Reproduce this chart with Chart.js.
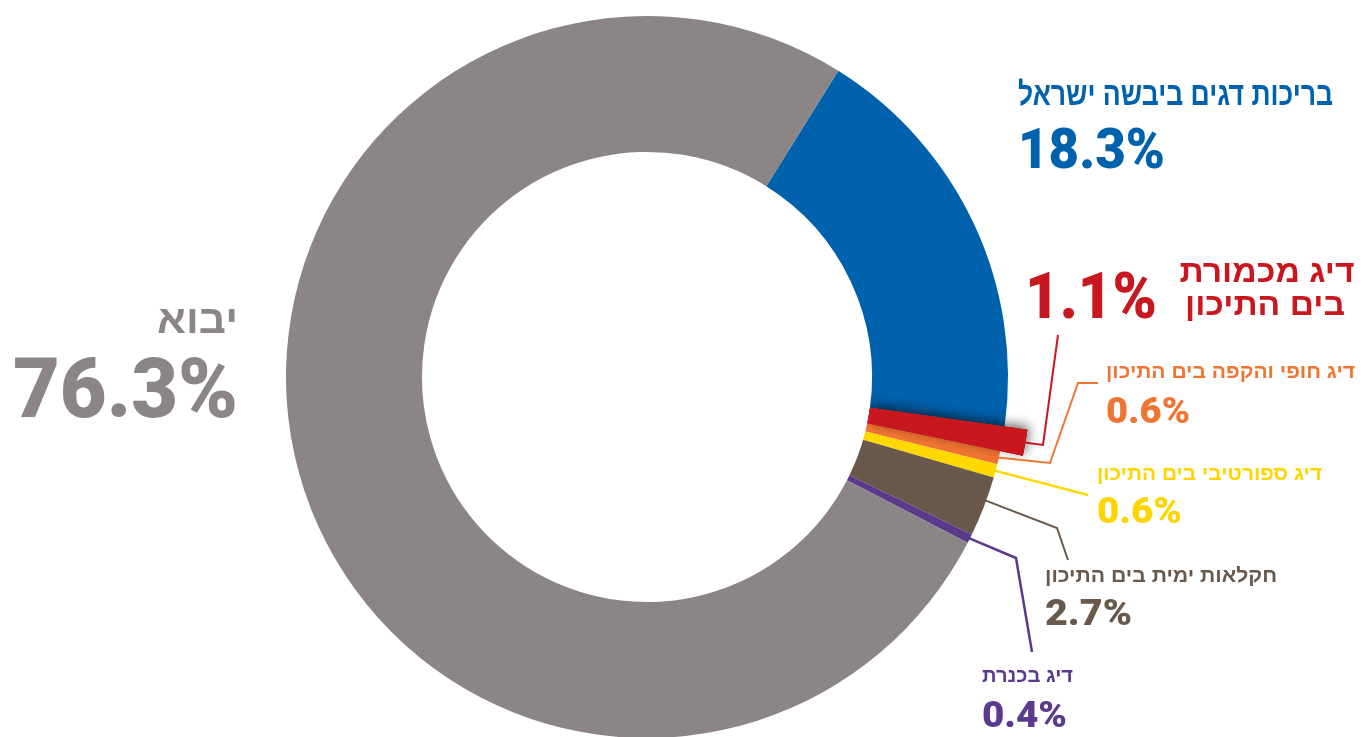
<!DOCTYPE html>
<html lang="he">
<head>
<meta charset="utf-8">
<script src="https://cdn.jsdelivr.net/npm/chart.js@4.4.1/dist/chart.umd.min.js"></script>
<style>
  html, body { margin: 0; padding: 0; background: #ffffff; }
  #wrap { position: relative; width: 1363px; height: 737px; }
</style>
</head>
<body>
<div id="wrap"><canvas id="chart"></canvas></div>
<script>
// Fish supply in Israel by source (share of total, %)
const categories = [
  'בריכות דגים ביבשה ישראל',
  'דיג מכמורת בים התיכון',
  'דיג חופי והקפה בים התיכון',
  'דיג ספורטיבי בים התיכון',
  'חקלאות ימית בים התיכון',
  'דיג בכנרת',
  'יבוא'
];
const shares = [18.3, 1.1, 0.6, 0.6, 2.7, 0.4, 76.3];
const sliceColors = ['#0061ad', '#c8171e', '#f07532', '#ffd800', '#68594b', '#5b3a8e', '#8b8685'];
const labelColors = ['#0061ad', '#c8171e', '#f07532', '#ffd500', '#68594b', '#5b3a8e', '#8b8685'];
const percentLabels = shares.map(v => v.toFixed(1) + '%');

// The trawling slice sticks out of the ring: it gets an extra outer band.
const HIGHLIGHT = 1;

const HEB_FONT = "'Liberation Sans', 'DejaVu Sans', sans-serif";
const NUM_FONT = "Roboto, 'Liberation Sans', sans-serif";

// Label placement: title (one or more lines) and value for each slice
const labelLayout = [
  { title: [{ x: 1333, y: 105, w: 315, align: 'right' }], tSize: 33, tWeight: 'bold',
    value: { x: 1018, y: 168, w: 147, align: 'left', size: 56 } },
  { split: 2, title: [{ x: 1267, y: 282, w: 175, align: 'center' }, { x: 1265, y: 315, w: 160, align: 'center' }],
    tSize: 32, tWeight: 'bold',
    value: { x: 1157, y: 318, w: 132, align: 'right', size: 64 } },
  { title: [{ x: 1355, y: 378, w: 249, align: 'right' }], tSize: 20, tWeight: 'bold',
    value: { x: 1106, y: 423, w: 84, align: 'left', size: 36 } },
  { title: [{ x: 1322, y: 480, w: 225, align: 'right' }], tSize: 20, tWeight: 'bold',
    value: { x: 1097, y: 523, w: 85, align: 'left', size: 36 } },
  { title: [{ x: 1277, y: 582, w: 232, align: 'right' }], tSize: 20, tWeight: 'bold',
    value: { x: 1045, y: 625, w: 87, align: 'left', size: 36 } },
  { title: [{ x: 1073, y: 682, w: 91, align: 'right' }], tSize: 20, tWeight: 'bold',
    value: { x: 982, y: 727, w: 85, align: 'left', size: 36 } },
  { title: [{ x: 238, y: 333, w: 81, align: 'right' }], tSize: 40, tWeight: 'bold',
    value: { x: 238, y: 417, w: 225, align: 'right', size: 84 } }
];

// Leader lines: where on the slice they start, then the bends toward the label
const leaders = [
  null,
  { frac: 0.5, width: 2, pts: [[1043, 445], [1058, 335]] },
  { frac: 0.5, width: 2, pts: [[1050, 463], [1078, 383], [1098, 383]] },
  { frac: 0.5, width: 2.5, pts: [[1088, 495]] },
  { frac: 0.4, width: 2, pts: [[1057, 528], [1068, 560]] },
  { frac: 0.5, width: 2.5, pts: [[1016, 558], [1032, 652]] },
  null
];

function fitText(ctx, text, x, y, align, targetW) {
  const natural = ctx.measureText(text).width;
  const sx = targetW ? targetW / natural : 1;
  ctx.save();
  ctx.translate(x, y);
  ctx.scale(sx, 1);
  ctx.textAlign = align;
  ctx.textBaseline = 'alphabetic';
  ctx.fillText(text, 0, 0);
  ctx.restore();
}

const shadowPlugin = {
  id: 'sliceShadow',
  afterDatasetsDraw(chart) {
    const ctx = chart.ctx;
    const outer = chart.getDatasetMeta(0).data[HIGHLIGHT];
    const inner = chart.getDatasetMeta(1).data[HIGHLIGHT];
    const p = inner.getProps(['x', 'y', 'innerRadius']);
    ctx.save();
    ctx.beginPath();
    ctx.rect(0, 0, chart.width, chart.height);
    ctx.arc(p.x, p.y, p.innerRadius, 0, Math.PI * 2, true);
    ctx.clip();
    ctx.shadowColor = 'rgba(0,0,0,0.6)';
    ctx.shadowBlur = 12;
    ctx.shadowOffsetX = 2;
    ctx.shadowOffsetY = -3;
    inner.draw(ctx);
    outer.draw(ctx);
    ctx.restore();
    ctx.save();
    inner.draw(ctx);
    outer.draw(ctx);
    ctx.restore();
  }
};

const labelPlugin = {
  id: 'sliceLabels',
  afterDraw(chart) {
    const ctx = chart.ctx;
    // leader lines
    leaders.forEach((ld, i) => {
      if (!ld) return;
      const arc = chart.getDatasetMeta(i === HIGHLIGHT ? 0 : 1).data[i];
      const a = arc.getProps(['x', 'y', 'startAngle', 'endAngle', 'outerRadius']);
      const ang = a.startAngle + ld.frac * (a.endAngle - a.startAngle);
      const sx = a.x + Math.cos(ang) * (a.outerRadius - 1);
      const sy = a.y + Math.sin(ang) * (a.outerRadius - 1);
      ctx.save();
      ctx.strokeStyle = sliceColors[i];
      ctx.lineWidth = ld.width;
      ctx.lineJoin = 'miter';
      ctx.beginPath();
      ctx.moveTo(sx, sy);
      ld.pts.forEach(pt => ctx.lineTo(pt[0], pt[1]));
      ctx.stroke();
      ctx.restore();
    });
    // titles and values
    labelLayout.forEach((lay, i) => {
      ctx.fillStyle = labelColors[i];
      let lines = [categories[i]];
      if (lay.split) {
        const words = categories[i].split(' ');
        lines = [words.slice(0, lay.split).join(' '), words.slice(lay.split).join(' ')];
      }
      ctx.font = lay.tWeight + ' ' + lay.tSize + 'px ' + HEB_FONT;
      lines.forEach((ln, k) => {
        const pos = lay.title[k];
        fitText(ctx, ln, pos.x, pos.y, pos.align, pos.w);
      });
      const v = lay.value;
      ctx.font = '900 ' + v.size + 'px ' + NUM_FONT;
      fitText(ctx, percentLabels[i], v.x, v.y, v.align, v.w);
    });
  }
};

new Chart(document.getElementById('chart'), {
  type: 'doughnut',
  data: {
    labels: categories,
    datasets: [
      {
        // outer band: only the highlighted slice is visible here
        data: shares,
        backgroundColor: sliceColors.map((c, i) => i === HIGHLIGHT ? c : 'rgba(0,0,0,0)'),
        borderWidth: 0,
        weight: 23
      },
      {
        data: shares,
        backgroundColor: sliceColors,
        borderWidth: 0,
        weight: 136
      }
    ]
  },
  options: {
    responsive: true,
    maintainAspectRatio: false,
    animation: false,
    events: [],
    rotation: 32,
    radius: 384,
    cutout: '58.6%',
    clip: false,
    layout: { padding: { left: 0, right: 69, top: 17, bottom: 0 } },
    plugins: { legend: { display: false }, tooltip: { enabled: false } }
  },
  plugins: [shadowPlugin, labelPlugin]
});
</script>
</body>
</html>
